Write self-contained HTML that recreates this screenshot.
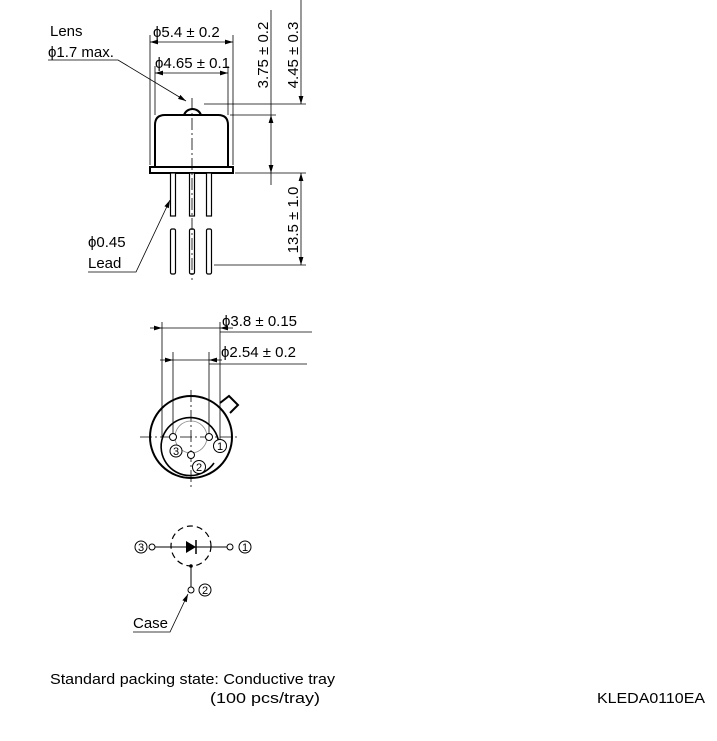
<!DOCTYPE html>
<html><head><meta charset="utf-8"><style>html,body{margin:0;padding:0;background:#fff}svg{display:block}</style></head>
<body>
<svg width="717" height="741" viewBox="0 0 717 741" xmlns="http://www.w3.org/2000/svg" font-family="'Liberation Sans', sans-serif" font-size="15" fill="#000">
<defs>
<marker id="a" viewBox="0 0 10 10" refX="10" refY="5" markerWidth="8" markerHeight="8" orient="auto-start-reverse" markerUnits="userSpaceOnUse"><path d="M0,2 L10,5 L0,8 z" fill="#000"/></marker>
</defs>
<g stroke="#000" fill="none" stroke-width="0.8">
<line x1="150" y1="35" x2="150" y2="165"/>
<line x1="233" y1="35" x2="233" y2="165"/>
<line x1="155" y1="66" x2="155" y2="115"/>
<line x1="228" y1="66" x2="228" y2="115"/>
<line x1="150" y1="42" x2="233" y2="42" marker-start="url(#a)" marker-end="url(#a)"/>
<line x1="155" y1="73" x2="228" y2="73" marker-start="url(#a)" marker-end="url(#a)"/>
<line x1="204" y1="104" x2="306" y2="104"/>
<line x1="230" y1="115" x2="276" y2="115"/>
<line x1="235" y1="173" x2="306" y2="173"/>
<line x1="214" y1="265" x2="306" y2="265"/>
<line x1="271" y1="10" x2="271" y2="115" />
<line x1="271" y1="115" x2="271" y2="173" marker-start="url(#a)" marker-end="url(#a)"/>
<line x1="271" y1="173" x2="271" y2="185"/>
<line x1="301" y1="0" x2="301" y2="104" marker-end="url(#a)"/>
<line x1="301" y1="173" x2="301" y2="265" marker-start="url(#a)" marker-end="url(#a)"/>
<polyline points="48,60 118,60 186,101" marker-end="url(#a)"/>
<polyline points="88,272 136,272 170,200" marker-end="url(#a)"/>
</g>
<g stroke="#000" stroke-width="2" fill="none">
<path d="M184,115 A9,9 0 0 1 201,115"/>
<path d="M155,167 L155,125 Q155,115 165,115 L218,115 Q228,115 228,125 L228,167"/>
<rect x="150" y="167" width="83" height="6" fill="#fff"/>
</g>
<g stroke="#000" stroke-width="1.2" fill="#fff">
<rect x="170.5" y="173" width="5" height="43"/>
<rect x="189.5" y="173" width="5" height="43"/>
<rect x="206.5" y="173" width="5" height="43"/>
<rect x="170.5" y="229" width="5" height="45" rx="1.5"/>
<rect x="189.5" y="229" width="5" height="45" rx="1.5"/>
<rect x="206.5" y="229" width="5" height="45" rx="1.5"/>
</g>
<line x1="192" y1="98" x2="192" y2="280" stroke="#000" stroke-width="0.8" stroke-dasharray="12,3,2,3"/>
<text x="50" y="36">Lens</text>
<text x="48" y="57">ϕ1.7 max.</text>
<text x="153" y="37">ϕ5.4 ± 0.2</text>
<text x="155" y="68">ϕ4.65 ± 0.1</text>
<text transform="translate(268,55) rotate(-90)" text-anchor="middle">3.75 ± 0.2</text>
<text transform="translate(298,55) rotate(-90)" text-anchor="middle">4.45 ± 0.3</text>
<text transform="translate(298,220) rotate(-90)" text-anchor="middle">13.5 ± 1.0</text>
<text x="88" y="247">ϕ0.45</text>
<text x="88" y="268">Lead</text>

<g stroke="#000" stroke-width="0.8" fill="none">
<line x1="150" y1="328" x2="162" y2="328" marker-end="url(#a)"/>
<line x1="162" y1="328" x2="220" y2="328"/>
<line x1="233" y1="328" x2="220" y2="328" marker-end="url(#a)"/>
<line x1="220" y1="332" x2="312" y2="332"/>
<line x1="162" y1="322" x2="162" y2="440"/>
<line x1="220" y1="322" x2="220" y2="440"/>
<line x1="160" y1="360" x2="173" y2="360" marker-end="url(#a)"/>
<line x1="173" y1="360" x2="209" y2="360"/>
<line x1="222" y1="360" x2="209" y2="360" marker-end="url(#a)"/>
<line x1="209" y1="364" x2="307" y2="364"/>
<line x1="173" y1="352" x2="173" y2="437"/>
<line x1="209" y1="352" x2="209" y2="437"/>
<line x1="140" y1="437" x2="240" y2="437" stroke-dasharray="12,3,2,3"/>
<line x1="191" y1="390" x2="191" y2="490" stroke-dasharray="12,3,2,3"/>
<circle cx="191" cy="437" r="16" stroke="#888"/>
</g>
<circle cx="191" cy="437" r="41" fill="none" stroke="#000" stroke-width="2"/>
<polyline points="220,403 229,396 238,405 230,413" fill="#fff" stroke="#000" stroke-width="2"/>
<path d="M214,463 A29,29 0 1 1 219,449" fill="none" stroke="#000" stroke-width="1.6"/>
<g stroke="#000" stroke-width="1" fill="#fff">
<circle cx="173" cy="437" r="3.5"/><circle cx="209" cy="437" r="3.5"/><circle cx="191" cy="455" r="3.5"/>
<circle cx="176" cy="451" r="6"/><circle cx="220" cy="446" r="6.5"/><circle cx="199" cy="467" r="6.5"/>
</g>
<g font-size="11" text-anchor="middle"><text x="176" y="455">3</text><text x="220" y="450">1</text><text x="199" y="471">2</text></g>
<text x="222" y="326">ϕ3.8 ± 0.15</text>
<text x="221" y="357">ϕ2.54 ± 0.2</text>

<g stroke="#000" stroke-width="1" fill="none">
<circle cx="191" cy="546" r="20" stroke-dasharray="6,4" stroke-width="1.2"/>
<line x1="155" y1="547" x2="227" y2="547"/>
<circle cx="152" cy="547" r="3" fill="#fff"/>
<circle cx="230" cy="547" r="3" fill="#fff"/>
<line x1="196" y1="540" x2="196" y2="554" stroke-width="1.5"/>
<line x1="191" y1="566" x2="191" y2="587"/>
<circle cx="191" cy="590" r="3" fill="#fff"/>
<circle cx="141" cy="547" r="6"/><circle cx="245" cy="547" r="6"/><circle cx="205" cy="590" r="6"/>
<polyline points="133,632 170,632 188,594" stroke-width="0.8" marker-end="url(#a)"/>
</g>
<path d="M186,541 L196,547 L186,553 Z" fill="#000"/>
<circle cx="191" cy="566" r="1.8" fill="#000"/>
<g font-size="11" text-anchor="middle"><text x="141" y="551">3</text><text x="245" y="551">1</text><text x="205" y="594">2</text></g>
<text x="133" y="628">Case</text>

<text x="50" y="684" textLength="285" lengthAdjust="spacingAndGlyphs">Standard packing state: Conductive tray</text>
<text x="210" y="703" textLength="110" lengthAdjust="spacingAndGlyphs">(100 pcs/tray)</text>
<text x="597" y="703" textLength="108" lengthAdjust="spacingAndGlyphs">KLEDA0110EA</text>
</svg>
</body></html>
